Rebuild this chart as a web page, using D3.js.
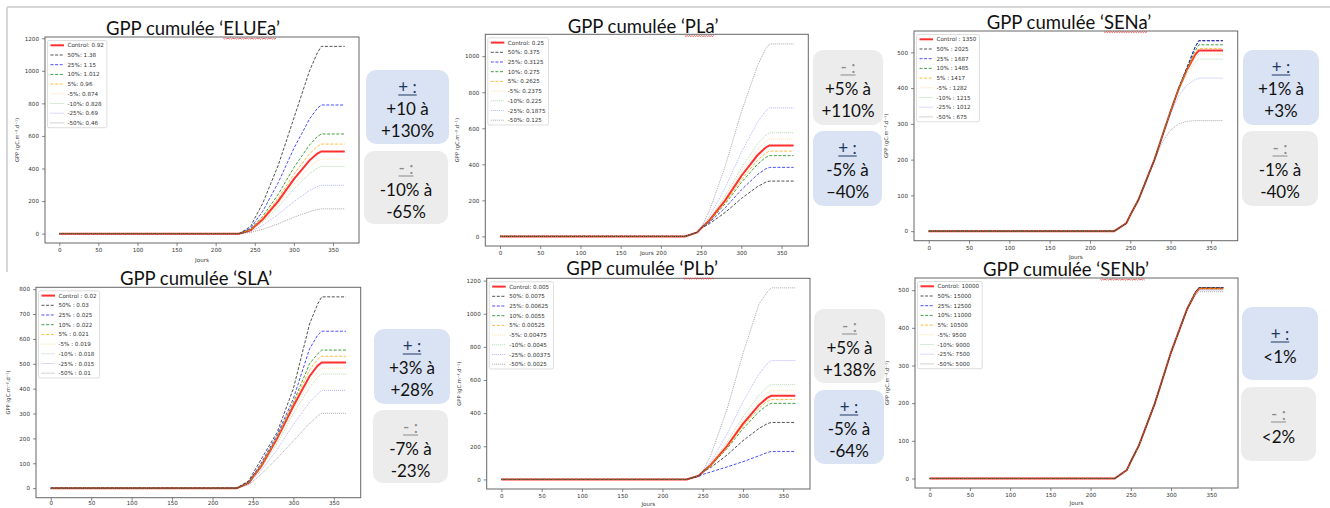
<!DOCTYPE html>
<html><head><meta charset="utf-8">
<script src="https://cdn.jsdelivr.net/npm/d3@7"></script>
<style>body{margin:0;background:#fff}svg{display:block}</style>
</head><body>
<svg id="c" width="1330" height="508"></svg>
<script>
// ---------------- DATA ----------------
const days = [0,230,245,250,260,280,300,320,330,335,365];
const daysSENa = [0,230,245,250,260,280,290,300,310,320,330,335,365];
const xTicks = [0,50,100,150,200,250,300,350];

// series order: Control, 50%, 25%, 10%, 5%, -5%, -10%, -25%, -50%
const elueaLabels = ["Control: 0.92","50%: 1.38","25%: 1.15","10%: 1.012","5%: 0.96","-5%: 0.874","-10%: 0.828","-25%: 0.69","-50%: 0.46"];
const elueaSeries = [
  [0,0,22,45,87,200,335,450,492,505,505],
  [0,0,45,95,185,420,710,1000,1110,1150,1150],
  [0,0,34,70,136,313,524,704,770,790,790],
  [0,0,27,55,105,242,406,545,596,612,612],
  [0,0,24,49,95,218,365,490,536,550,550],
  [0,0,20,41,79,181,304,408,446,458,458],
  [0,0,18,37,71,164,274,368,402,413,413],
  [0,0,13,26,51,118,197,265,289,297,297],
  [0,0,7,14,26,60,101,135,148,152,152]
];
const elueaYTicks = [0,200,400,600,800,1000,1200];

const plaLabels = ["Control: 0.25","50%: 0.375","25%: 0.3125","10%: 0.275","5%: 0.2625","-5%: 0.2375","-10%: 0.225","-25%: 0.1875","-50%: 0.125"];
const plaSeries = [
  [0,0,22,45,87,200,335,450,492,505,505],
  [0,0,22,45,69,133,210,276,300,307,307],
  [0,0,22,45,76,159,258,343,374,383,383],
  [0,0,22,45,82,181,299,400,437,448,448],
  [0,0,22,45,84,189,315,422,461,473,473],
  [0,0,22,45,90,212,357,481,526,540,540],
  [0,0,22,45,93,224,379,512,560,575,575],
  [0,0,22,45,106,270,466,633,694,713,713],
  [0,0,22,45,138,390,690,946,1039,1068,1068]
];
const plaYTicks = [0,200,400,600,800,1000];

const senaLabels = ["Control : 1350","50% : 2025","25% : 1687","10% : 1485","5% : 1417","-5% : 1282","-10% : 1215","-25% : 1012","-50% : 675"];
const senaSeries = [
  [0,0,22,45,87,200,268,335,398,450,492,505,505],
  [0,0,22,45,87,200,268,335,399,456,513,533,533],
  [0,0,22,45,87,200,268,335,399,455,512,532,532],
  [0,0,22,45,87,200,268,335,398,453,503,521,521],
  [0,0,22,45,87,200,268,335,398,451,497,511,511],
  [0,0,22,45,87,200,268,335,397,447,484,495,495],
  [0,0,22,45,87,200,268,334,394,440,471,481,481],
  [0,0,22,45,87,200,267,328,378,408,423,428,428],
  [0,0,22,45,87,198,250,283,300,307,309,309,309]
];
const senaYTicks = [0,100,200,300,400,500];

const slaLabels = ["Control : 0.02","50% : 0.03","25% : 0.025","10% : 0.022","5% : 0.021","-5% : 0.019","-10% : 0.018","-25% : 0.015","-50% : 0.01"];
const slaSeries = [
  [0,0,22,45,87,200,330,450,492,505,505],
  [0,0,30,60,115,225,400,660,740,769,769],
  [0,0,25,50,100,215,360,560,615,631,631],
  [0,0,23,47,93,207,345,500,540,555,555],
  [0,0,22,46,90,204,340,475,518,530,530],
  [0,0,21,43,83,190,315,425,468,482,482],
  [0,0,20,41,79,180,300,405,446,459,459],
  [0,0,18,36,70,155,255,345,380,393,393],
  [0,0,14,28,55,120,190,260,290,301,301]
];
const slaYTicks = [0,100,200,300,400,500,600,700,800];

const plbLabels = ["Control: 0.005","50%: 0.0075","25%: 0.00625","10%: 0.0055","5%: 0.00525","-5%: 0.00475","-10%: 0.0045","-25%: 0.00375","-50%: 0.0025"];
const plbSeries = [
  [0,0,22,45,87,200,335,450,492,505,505],
  [0,0,22,45,72,146,234,308,336,344,344],
  [0,0,18,30,45,75,107,143,162,169,169],
  [0,0,22,45,83,185,306,410,447,459,459],
  [0,0,22,45,85,192,321,430,470,482,482],
  [0,0,22,45,90,211,355,478,523,537,537],
  [0,0,22,45,93,223,377,509,557,572,572],
  [0,0,22,45,106,271,469,637,698,717,717],
  [0,0,22,45,146,419,760,1060,1130,1156,1156]
];
const plbYTicks = [0,200,400,600,800,1000,1200];

const senbLabels = ["Control: 10000","50%: 15000","25%: 12500","10%: 11000","5%: 10500","-5%: 9500","-10%: 9000","-25%: 7500","-50%: 5000"];
const senbSeries = [
  [0,0,22,45,87,200,335,450,492,505,505],
  [0,0,22,45,87,200,335,450,494,507,507],
  [0,0,22,45,87,200,335,450,494,507,507],
  [0,0,22,45,87,200,335,450,493,506,506],
  [0,0,22,45,87,200,335,450,492,505,505],
  [0,0,22,45,87,200,335,450,491,503,503],
  [0,0,22,45,87,200,335,450,490,502,502],
  [0,0,22,45,87,200,335,449,488,500,500],
  [0,0,22,45,87,200,334,448,485,496,496]
];
const senbYTicks = [0,100,200,300,400,500];

// box texts
const elueaBoxes = [["+ :","+10 à","+130%"],["- :","-10% à","-65%"]];
const plaBoxes   = [["- :","+5% à","+110%"],["+ :","-5% à","–40%"]];
const senaBoxes  = [["+ :","+1% à","+3%"],["- :","-1% à","-40%"]];
const slaBoxes   = [["+ :","+3% à","+28%"],["- :","-7% à","-23%"]];
const plbBoxes   = [["- :","+5% à","+138%"],["+ :","-5% à","-64%"]];
const senbBoxes  = [["+ :","<1%"],["- :","<2%"]];

// ---------------- STYLE / LAYOUT ----------------
const styles = [
  {c:"#ff1a1a", w:2,   dash:null,     o:0.9},
  {c:"#1a1a1a", w:0.9, dash:"3,1.6",  o:0.85},
  {c:"#0000ff", w:1,   dash:"3,1.6",  o:0.7},
  {c:"#008000", w:1,   dash:"3,1.6",  o:0.75},
  {c:"#ffa500", w:1,   dash:"3,1.6",  o:0.75},
  {c:"#ffa500", w:1,   dash:"1,1",    o:0.35},
  {c:"#008000", w:1,   dash:"1,1",    o:0.3},
  {c:"#0000ff", w:1,   dash:"1,1",    o:0.3},
  {c:"#000000", w:1,   dash:"1,1",    o:0.35}
];
const BLUE = "#dae3f3", GRAY = "#ececec";

const panels = [
  {title:"GPP cumulée ‘ELUEa’", word:"ELUEa", squig:true, days:days, series:elueaSeries, labels:elueaLabels, yTicks:elueaYTicks,
   ax:{x0:45,y0:37,x1:359,y1:243}, tx:193, ty:35, jy:18.5, xpad:2.5,
   boxes:[{x:366,y:70,w:83,h:74,f:BLUE,t:elueaBoxes[0]},{x:364,y:151,w:84,h:73,f:GRAY,t:elueaBoxes[1]}]},
  {title:"GPP cumulée ‘PLa’", word:"PLa", squig:true, days:days, series:plaSeries, labels:plaLabels, yTicks:plaYTicks,
   ax:{x0:485.3,y0:34.3,x1:808.3,y1:246}, tx:643, ty:32.5, jy:9, xpad:2.5,
   boxes:[{x:813,y:50,w:70,h:75,f:GRAY,t:plaBoxes[0]},{x:813,y:131,w:69,h:75,f:BLUE,t:plaBoxes[1]}]},
  {title:"GPP cumulée ‘SENa’", word:"SENa", squig:true, days:daysSENa, series:senaSeries, labels:senaLabels, yTicks:senaYTicks,
   ax:{x0:914,y0:31,x1:1237.7,y1:240.7}, tx:1069, ty:28.5, jy:18.5, xpad:2.5,
   boxes:[{x:1243,y:50,w:76,h:75,f:BLUE,t:senaBoxes[0]},{x:1242,y:131,w:76,h:75,f:GRAY,t:senaBoxes[1]}]},
  {title:"GPP cumulée ‘SLA’", word:"SLA", squig:false, days:days, series:slaSeries, labels:slaLabels, yTicks:slaYTicks,
   ax:{x0:36,y0:287.3,x1:360.7,y1:497.7}, tx:196, ty:285, jy:null, xpad:0.8,
   boxes:[{x:374,y:329,w:76,h:75,f:BLUE,t:slaBoxes[0]},{x:373,y:410,w:75,h:73,f:GRAY,t:slaBoxes[1]}]},
  {title:"GPP cumulée ‘PLb’", word:"PLb", squig:true, days:days, series:plbSeries, labels:plbLabels, yTicks:plbYTicks,
   ax:{x0:486.7,y0:278.3,x1:810,y1:489}, tx:642, ty:275, jy:16.5, xpad:2.5,
   boxes:[{x:814,y:309,w:71,h:74,f:GRAY,t:plbBoxes[0]},{x:814,y:390,w:70,h:74,f:BLUE,t:plbBoxes[1]}]},
  {title:"GPP cumulée ‘SENb’", word:"SENb", squig:true, days:days, series:senbSeries, labels:senbLabels, yTicks:senbYTicks,
   ax:{x0:915,y0:278,x1:1238,y1:488}, tx:1066, ty:276, jy:16.5, xpad:2.5,
   boxes:[{x:1242,y:307,w:76,h:73,f:BLUE,t:senbBoxes[0]},{x:1241,y:387,w:75,h:74,f:GRAY,t:senbBoxes[1]}]}
];

const svg = d3.select("#c");
const SMALL = "'DejaVu Sans', sans-serif";
const BIG = "Lato, 'Open Sans', sans-serif";

// slide border
svg.append("line").attr("x1",7).attr("x2",1330).attr("y1",7).attr("y2",7).attr("stroke","#d6d6d6").attr("stroke-width",2);
svg.append("line").attr("x1",7).attr("x2",7).attr("y1",7).attr("y2",272).attr("stroke","#d6d6d6").attr("stroke-width",2);

function drawPanel(p){
  const g = svg.append("g");
  const a = p.ax;
  const x = d3.scaleLinear().domain([-18.25, 383.25]).range([a.x0, a.x1]);
  const ymax = d3.max(p.series, s => d3.max(s));
  const y = d3.scaleLinear().domain([-0.05*ymax, 1.05*ymax]).range([a.y1, a.y0]);

  const line = d3.line().x((d,i) => x(p.days[i])).y(d => y(d));
  p.series.forEach((s,i) => {
    const st = styles[i];
    g.append("path").datum(s).attr("d", line).attr("fill","none")
      .attr("stroke", st.c).attr("stroke-width", st.w).attr("stroke-opacity", st.o)
      .attr("stroke-dasharray", st.dash);
  });

  // frame
  g.append("rect").attr("x",a.x0).attr("y",a.y0).attr("width",a.x1-a.x0).attr("height",a.y1-a.y0)
    .attr("fill","none").attr("stroke","#666").attr("stroke-width",1);

  const xa = g.append("g").attr("transform",`translate(0,${a.y1})`)
    .call(d3.axisBottom(x).tickValues(xTicks).tickFormat(d3.format("d")).tickSize(3).tickPadding(p.xpad));
  const ya = g.append("g").attr("transform",`translate(${a.x0},0)`)
    .call(d3.axisLeft(y).tickValues(p.yTicks).tickFormat(d3.format("d")).tickSize(3).tickPadding(3));
  [xa, ya].forEach(ax => {
    ax.select(".domain").remove();
    ax.selectAll(".tick line").attr("stroke","#555").attr("stroke-width",0.7);
    ax.selectAll(".tick text").attr("fill","#333").style("font-size","5.6px").style("font-family",SMALL);
  });

  // axis labels
  if (p.jy !== null) {
    g.append("text").attr("x",(a.x0+a.x1)/2).attr("y",a.y1+p.jy).attr("text-anchor","middle")
      .attr("fill","#333").style("font-size","5.6px").style("font-family",SMALL).text("Jours");
  }
  const ylx = a.x0 - 26, yly = (a.y0+a.y1)/2;
  g.append("text").attr("transform",`translate(${ylx},${yly}) rotate(-90)`).attr("text-anchor","middle")
    .attr("fill","#333").style("font-size","5.2px").style("font-family",SMALL).text("GPP (gC.m⁻².d⁻¹)");

  // legend
  const lg = g.append("g").attr("transform",`translate(${a.x0+2.5},${a.y0+4})`);
  const rowH = 9.7, fs = 5.6;
  const bg = lg.append("rect").attr("fill","#fff").attr("fill-opacity",0.85).attr("stroke","#d0d0d0").attr("stroke-width",0.7).attr("rx",1.5);
  let maxW = 0;
  p.labels.forEach((lab,i) => {
    const cy = 4.3 + i*rowH;
    const st = styles[i];
    lg.append("line").attr("x1",3).attr("x2",16.5).attr("y1",cy).attr("y2",cy)
      .attr("stroke",st.c).attr("stroke-width",st.w).attr("stroke-opacity",st.o).attr("stroke-dasharray",st.dash);
    const t = lg.append("text").attr("x",20).attr("y",cy+fs*0.36).attr("fill","#333")
      .style("font-size",fs+"px").style("font-family",SMALL).text(lab);
    maxW = Math.max(maxW, t.node().getComputedTextLength());
  });
  bg.attr("x",0).attr("y",-0.5).attr("width",20+maxW+3).attr("height",4.3+8*rowH+5.3);

  // title
  const tt = g.append("text").attr("x",p.tx).attr("y",p.ty).attr("text-anchor","middle")
    .attr("fill","#111").style("font-size","18.5px").style("font-family",BIG).text(p.title);
  if (p.squig){
    const idx = p.title.indexOf(p.word);
    const n = tt.node();
    const xs = n.getStartPositionOfChar(idx).x, xe = n.getEndPositionOfChar(idx+p.word.length-1).x;
    const by = p.ty + 3;
    let d = `M${xs},${by}`;
    let k = 0;
    for (let xx = xs+1.2; xx <= xe; xx += 1.2, k++) d += ` L${xx},${by + (k%2===0 ? 1.1 : 0)}`;
    g.append("path").attr("d",d).attr("fill","none").attr("stroke","#e23b3b").attr("stroke-width",0.8);
  }

  // boxes
  p.boxes.forEach(b => {
    const bx = g.append("g");
    bx.append("rect").attr("x",b.x).attr("y",b.y).attr("width",b.w).attr("height",b.h).attr("rx",10).attr("fill",b.f);
    const cx = b.x + b.w/2;
    const isPlus = b.t[0].startsWith("+");
    const headC = isPlus ? "#1f3864" : "#8a8a8a";
    const pos = b.t.length === 3 ? [17, 39, 61] : [27, 50];
    b.t.forEach((s,i) => {
      const cyy = b.y + pos[i];
      const t = bx.append("text").attr("x",cx).attr("y",cyy+6).attr("text-anchor","middle")
        .attr("fill", i===0 ? headC : "#111").style("font-size","17px").style("font-family",BIG).text(s);
      if (i===0){
        const w = t.node().getComputedTextLength();
        bx.append("line").attr("x1",cx-w/2).attr("x2",cx+w/2).attr("y1",cyy+8).attr("y2",cyy+8)
          .attr("stroke",headC).attr("stroke-width",1);
      }
    });
  });
}
panels.forEach(drawPanel);
</script>
</body></html>
